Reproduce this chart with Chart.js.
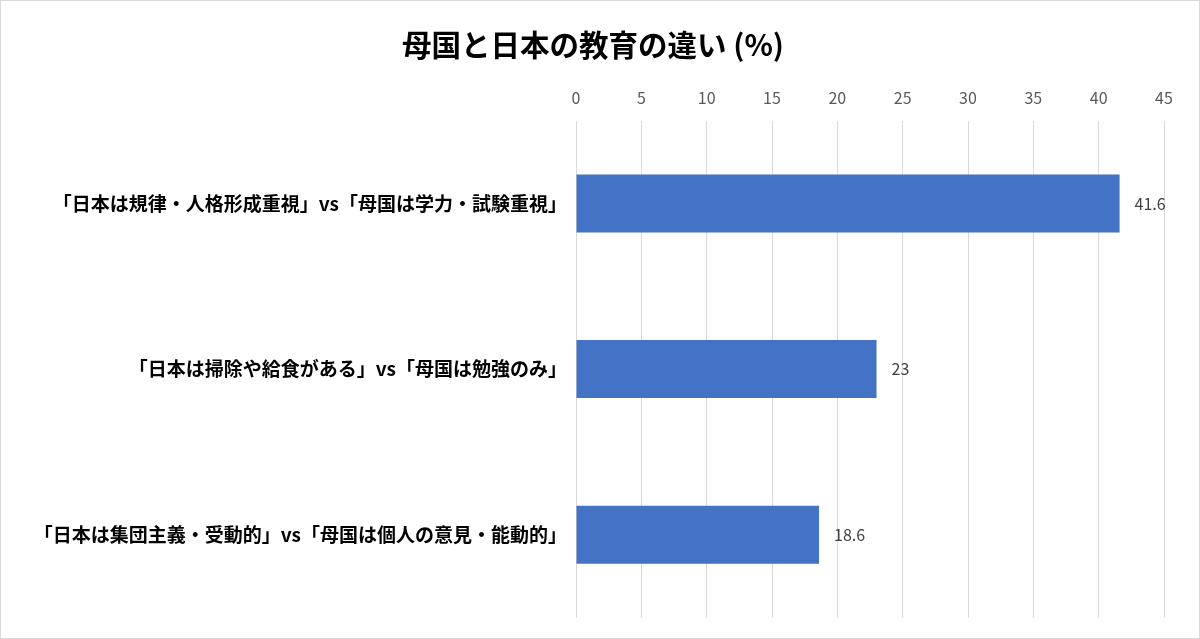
<!DOCTYPE html>
<html lang="ja">
<head>
<meta charset="utf-8">
<script src="https://cdn.jsdelivr.net/npm/chart.js@4/dist/chart.umd.min.js"></script>
<style>
  html, body { margin: 0; padding: 0; background: #fff; }
  #wrap { width: 1200px; height: 639px; box-sizing: border-box; border: 1px solid #d9d9d9; position: relative; }
</style>
</head>
<body>
<div id="wrap"><canvas id="chart"></canvas></div>
<script>
const title = "母国と日本の教育の違い (%)";
const categories = [
  "「日本は規律・人格形成重視」vs「母国は学力・試験重視」",
  "「日本は掃除や給食がある」vs「母国は勉強のみ」",
  "「日本は集団主義・受動的」vs「母国は個人の意見・能動的」"
];
const values = [41.6, 23, 18.6];
const xMin = 0, xMax = 45, xStep = 5;

const FONT = '"Noto Sans CJK JP", "Noto Sans", sans-serif';

// value labels at the end of each bar
const valueLabels = {
  id: "valueLabels",
  afterDatasetsDraw(chart) {
    const ctx = chart.ctx;
    const meta = chart.getDatasetMeta(0);
    ctx.save();
    ctx.font = `16px ${FONT}`;
    ctx.fillStyle = "#404040";
    ctx.textAlign = "left";
    ctx.textBaseline = "middle";
    meta.data.forEach((bar, i) => {
      ctx.fillText(String(values[i]), bar.x + 15, bar.y);
    });
    ctx.restore();
  }
};

new Chart(document.getElementById("chart"), {
  type: "bar",
  data: {
    labels: categories,
    datasets: [{
      data: values,
      backgroundColor: "#4472c4",
      borderColor: "#4472c4",
      borderWidth: 0,
      barPercentage: 0.7,
      categoryPercentage: 0.5
    }]
  },
  options: {
    indexAxis: "y",
    responsive: true,
    maintainAspectRatio: false,
    animation: false,
    layout: { padding: { left: 21, right: 35, top: 8, bottom: 8 } },
    scales: {
      x: {
        position: "top",
        min: xMin,
        max: xMax,
        ticks: { stepSize: xStep, color: "#595959", font: { family: FONT, size: 16 }, padding: 13 },
        grid: { color: "#d9d9d9", lineWidth: 1, drawTicks: false },
        border: { display: false }
      },
      y: {
        ticks: { color: "#000", font: { family: FONT, size: 19, weight: "bold" }, padding: 9 },
        grid: { display: false, drawTicks: false },
        border: { display: false },
        afterFit(scale) { scale.width = 554; }
      }
    },
    plugins: {
      legend: { display: false },
      tooltip: { enabled: false },
      title: {
        display: true,
        text: title,
        color: "#000",
        font: { family: FONT, size: 29.5, weight: "bold" },
        padding: { top: 18, bottom: 13 }
      }
    }
  },
  plugins: [valueLabels]
});
</script>
</body>
</html>
